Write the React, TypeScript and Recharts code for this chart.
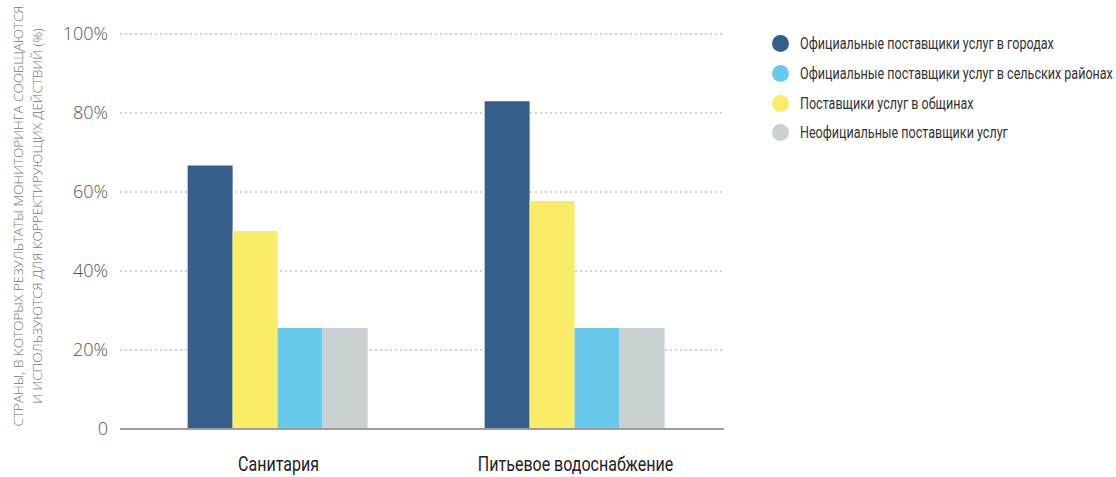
import { BarChart, Bar, XAxis, YAxis, CartesianGrid } from "recharts";

const categories = ["Санитария", "Питьевое водоснабжение"];

// bar order in the plot differs from the legend order
const urbanFormal = [66.7, 83.0];
const community = [50.1, 57.7];
const ruralFormal = [25.6, 25.6];
const informal = [25.6, 25.6];

const yTicks = [0, 20, 40, 60, 80, 100];

const seriesNames = {
  urbanFormal: "Официальные поставщики услуг в городах",
  ruralFormal: "Официальные поставщики услуг в сельских районах",
  community: "Поставщики услуг в общинах",
  informal: "Неофициальные поставщики услуг",
};

const colors = {
  urbanFormal: "#355e8a",
  ruralFormal: "#69c9ed",
  community: "#f9ec66",
  informal: "#c9d1d3",
};

const legendOrder: Array<keyof typeof seriesNames> = [
  "urbanFormal",
  "ruralFormal",
  "community",
  "informal",
];

const yTitle = [
  "СТРАНЫ, В КОТОРЫХ РЕЗУЛЬТАТЫ МОНИТОРИНГА СООБЩАЮТСЯ",
  "И ИСПОЛЬЗУЮТСЯ ДЛЯ КОРРЕКТИРУЮЩИХ ДЕЙСТВИЙ (%)",
];

const data = categories.map((name, i) => ({
  name,
  urbanFormal: urbanFormal[i],
  community: community[i],
  ruralFormal: ruralFormal[i],
  informal: informal[i],
}));

const condensed = "Roboto, sans-serif";
const light = '"Open Sans", "Noto Sans", sans-serif';

// no condensed face installed, so squeeze Roboto horizontally
const CategoryTick = ({ x, y, payload }: any) => (
  <text
    transform={`translate(${x}, ${y}) scale(0.8, 1)`}
    textAnchor="middle"
    dy="0.71em"
    fill="#222"
    fontSize={20}
    fontFamily={condensed}
  >
    {payload.value}
  </text>
);

export default function App() {
  return (
    <div style={{ position: "absolute", left: 0, top: 0, width: 1116, height: 477, background: "#fff", overflow: "hidden" }}>
      <BarChart
        width={1116}
        height={477}
        data={data}
        margin={{ top: 34, right: 392, bottom: 18, left: 60 }}
        barGap={0}
        barCategoryGap="19.4%"
      >
        <CartesianGrid
          vertical={false}
          stroke="#a8a8a8"
          strokeDasharray="2 3"
          horizontalValues={[20, 40, 60, 80, 100]}
        />
        <XAxis
          dataKey="name"
          height={30}
          padding={{ left: 10, right: 0 }}
          axisLine={{ stroke: "#9e9e9e", strokeWidth: 2 }}
          tickLine={false}
          tickMargin={22}
          tick={<CategoryTick />}
        />
        <YAxis
          width={60}
          domain={[0, 100]}
          ticks={yTicks}
          axisLine={false}
          tickLine={false}
          tickMargin={6}
          tickFormatter={(v: number) => (v === 0 ? "0" : `${v}%`)}
          tick={{ fill: "#555", fontSize: 18, fontFamily: light, fontWeight: 300 }}
        />
        <Bar dataKey="urbanFormal" fill={colors.urbanFormal} isAnimationActive={false} />
        <Bar dataKey="community" fill={colors.community} isAnimationActive={false} />
        <Bar dataKey="ruralFormal" fill={colors.ruralFormal} isAnimationActive={false} />
        <Bar dataKey="informal" fill={colors.informal} isAnimationActive={false} />
      </BarChart>

      <svg width={60} height={477} style={{ position: "absolute", left: 0, top: 0 }}>
        {yTitle.map((line, i) => (
          <text
            key={i}
            x={0}
            y={0}
            transform={`translate(${18 + i * 18.5}, 216) rotate(-90)`}
            textAnchor="middle"
            dominantBaseline="central"
            fill="#777"
            fontSize={13.5}
            fontWeight={300}
            fontFamily={light}
          >
            {line}
          </text>
        ))}
      </svg>

      <div style={{ position: "absolute", left: 772, top: 29, width: 400 }}>
        {legendOrder.map((k) => (
          <div key={k} style={{ display: "flex", alignItems: "center", height: 29.7 }}>
            <span
              style={{
                display: "inline-block",
                width: 17,
                height: 17,
                borderRadius: "50%",
                background: colors[k],
                marginRight: 11,
                flex: "none",
              }}
            />
            <span
              style={{
                fontFamily: condensed,
                fontSize: 16.5,
                color: "#333",
                whiteSpace: "nowrap",
                display: "inline-block",
                transform: "scaleX(0.76)",
                transformOrigin: "left center",
              }}
            >
              {seriesNames[k]}
            </span>
          </div>
        ))}
      </div>
    </div>
  );
}
